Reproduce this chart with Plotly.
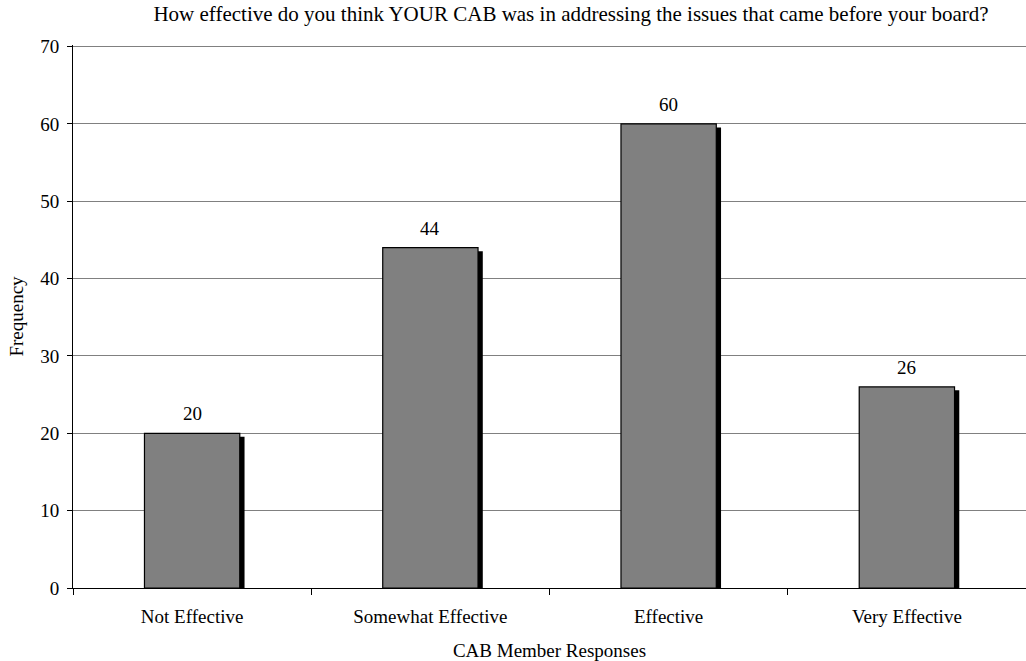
import plotly.graph_objects as go

# Survey responses
categories = ["Not Effective", "Somewhat Effective", "Effective", "Very Effective"]
frequency = [20, 44, 60, 26]
y_ticks = [0, 10, 20, 30, 40, 50, 60, 70]

FONT = "Liberation Serif, Times New Roman, serif"
BAR_W = 0.4

fig = go.Figure()

# drop shadow behind each bar: shifted right and slightly down
fig.add_trace(go.Bar(
    x=categories, y=frequency, base=[-0.45] * len(frequency),
    width=BAR_W, offset=-BAR_W / 2 + 0.02,
    marker=dict(color="black", line=dict(width=0)),
    hoverinfo="skip", showlegend=False,
))

# main bars
fig.add_trace(go.Bar(
    x=categories, y=frequency,
    width=BAR_W, offset=-BAR_W / 2,
    marker=dict(color="#808080", line=dict(color="black", width=1.2)),
    showlegend=False,
))

for c, v in zip(categories, frequency):
    fig.add_annotation(x=c, y=v, text=str(v), showarrow=False,
                       yanchor="bottom", yshift=7,
                       font=dict(family=FONT, size=19, color="black"))

fig.update_layout(
    width=1026, height=661,
    margin=dict(l=73, r=0, t=45, b=73),
    paper_bgcolor="white", plot_bgcolor="white",
    barmode="overlay",
    font=dict(family=FONT, size=19, color="black"),
    title=dict(text="How effective do you think YOUR CAB was in addressing the issues that came before your board?",
               x=571 / 1026, xanchor="center", y=1 - 14 / 661, yanchor="middle",
               font=dict(family=FONT, size=21, color="black")),
    showlegend=False,
)

fig.update_xaxes(
    type="category", range=[-0.5, 3.5],
    showline=True, linecolor="black", linewidth=1,
    ticks="outside", tickson="boundaries", ticklen=6, tickcolor="black",
    ticklabelstandoff=11,
    showgrid=False,
    title=dict(text="CAB Member Responses", standoff=21,
               font=dict(family=FONT, size=19)),
    tickfont=dict(family=FONT, size=19),
)
fig.update_yaxes(
    range=[0, 70.2], tickvals=y_ticks,
    showline=True, linecolor="black", linewidth=1,
    ticks="outside", ticklen=5, tickcolor="black",
    ticklabelstandoff=4,
    showgrid=True, gridcolor="#808080", gridwidth=1,
    zeroline=False,
    title=dict(text="Frequency", standoff=11, font=dict(family=FONT, size=19)),
    tickfont=dict(family=FONT, size=19),
)

fig.write_html("out.html")
